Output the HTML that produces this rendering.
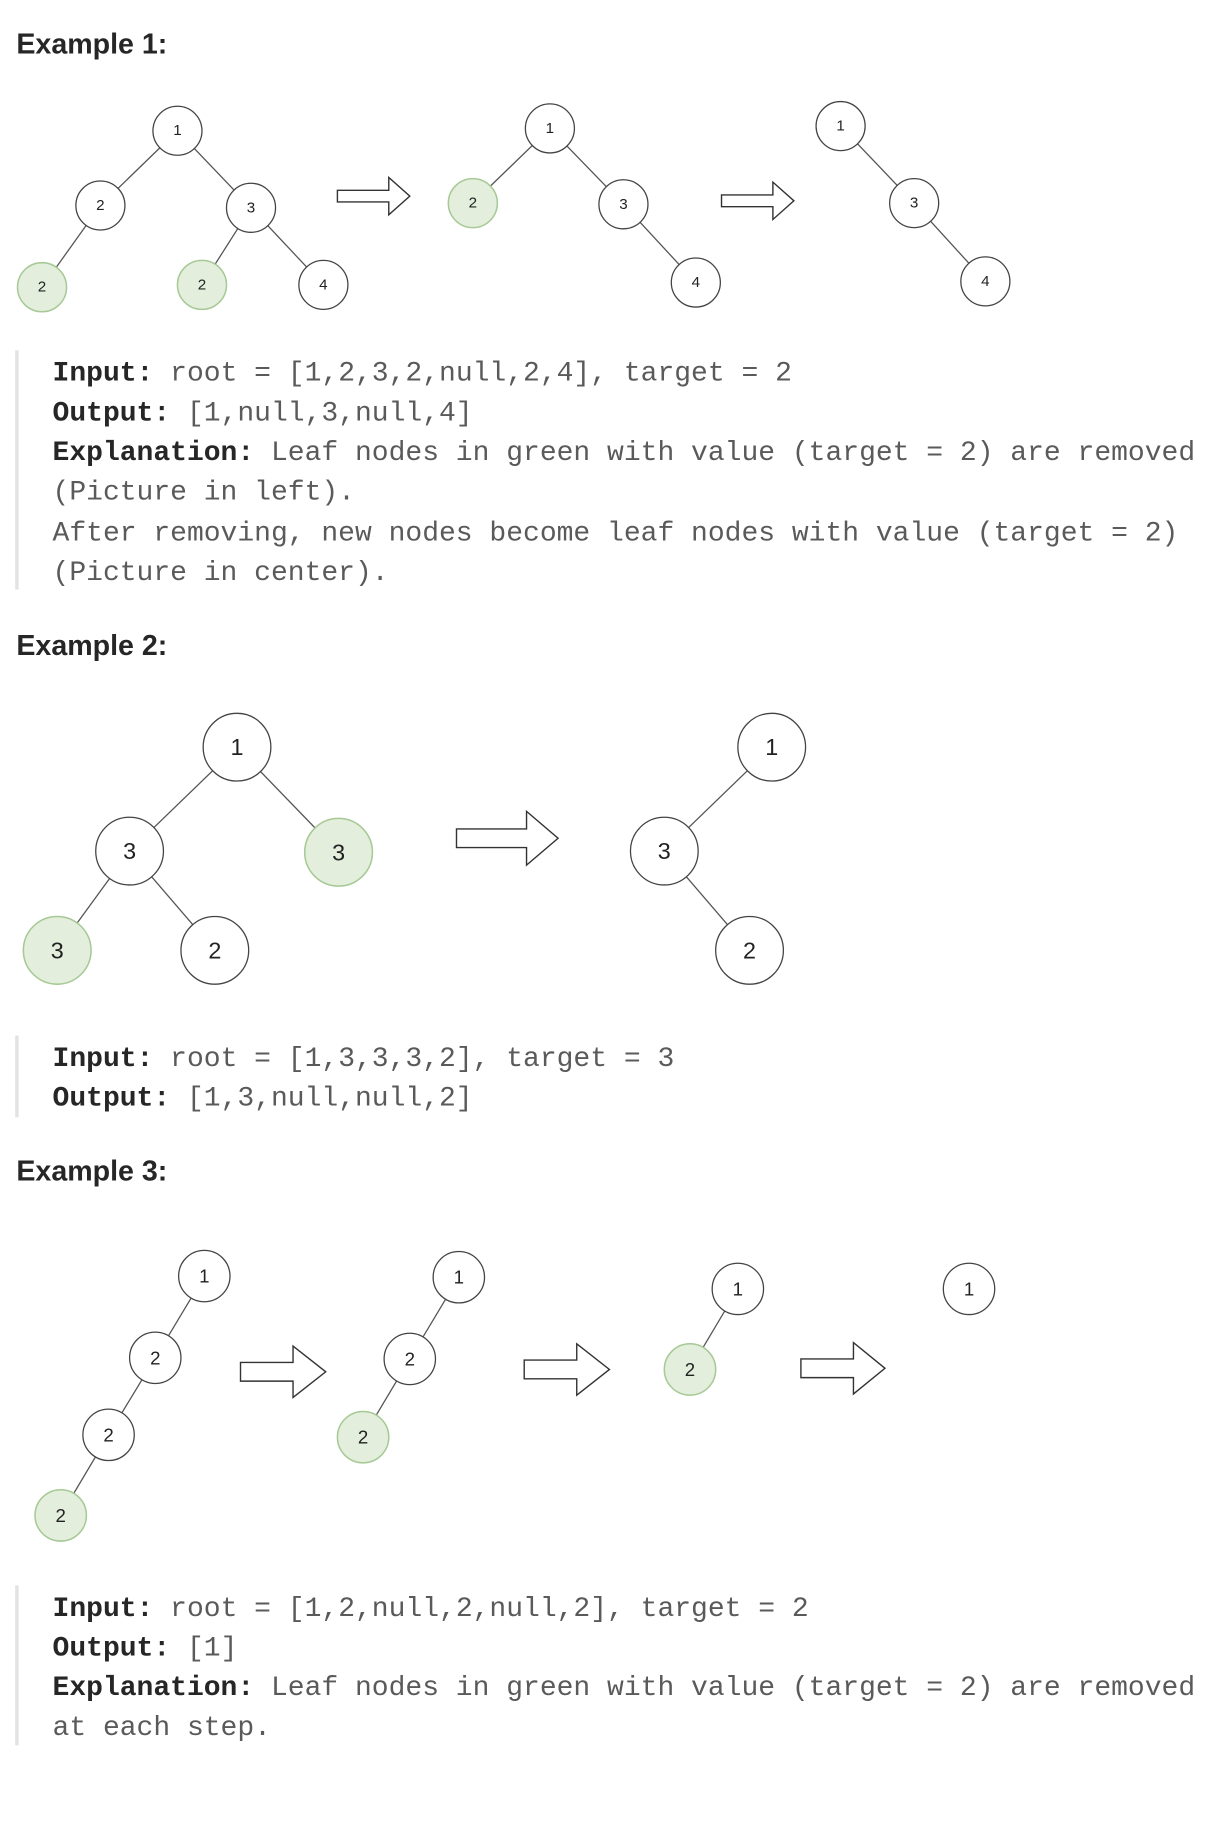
<!DOCTYPE html>
<html><head><meta charset="utf-8"><style>
html,body{margin:0;padding:0;background:#fff;}
svg{display:block;}
.h{font-family:"Liberation Sans",sans-serif;font-weight:bold;font-size:24.5px;fill:#262626;}
.c{font-family:"Liberation Mono",monospace;font-size:24px;fill:#5a5a5a;}
.b{font-weight:bold;fill:#262626;}
.e{stroke:#555;stroke-width:1.1;fill:none;}
.n{fill:#fff;stroke:#444;stroke-width:1.1;}
.g{fill:#e3eedd;stroke:#a6c995;stroke-width:1.3;}
.t{font-family:"Liberation Sans",sans-serif;fill:#222;text-anchor:middle;dominant-baseline:central;}
.a{fill:#fff;stroke:#333;stroke-width:1.2;}
.bar{fill:#e3e3e3;}
</style></head><body>
<svg width="1210" height="1832" viewBox="0 0 1036.4 1569.2" preserveAspectRatio="none">
<text class="h" x="14" y="46">Example 1:</text>
<g class="e">
<line x1="152" y1="112" x2="86" y2="176"/><line x1="152" y1="112" x2="215" y2="178"/>
<line x1="86" y1="176" x2="36" y2="246"/><line x1="215" y1="178" x2="173" y2="244"/><line x1="215" y1="178" x2="277" y2="244"/>
<line x1="471" y1="110" x2="405" y2="174"/><line x1="471" y1="110" x2="534" y2="175"/><line x1="534" y1="175" x2="596" y2="242"/>
<line x1="720" y1="108" x2="783" y2="174"/><line x1="783" y1="174" x2="844" y2="241"/>
</g>
<g font-size="13">
<circle class="n" cx="152" cy="112" r="21"/><text class="t" x="152" y="112">1</text>
<circle class="n" cx="86" cy="176" r="21"/><text class="t" x="86" y="176">2</text>
<circle class="n" cx="215" cy="178" r="21"/><text class="t" x="215" y="178">3</text>
<circle class="g" cx="36" cy="246" r="21"/><text class="t" x="36" y="246">2</text>
<circle class="g" cx="173" cy="244" r="21"/><text class="t" x="173" y="244">2</text>
<circle class="n" cx="277" cy="244" r="21"/><text class="t" x="277" y="244">4</text>
<circle class="n" cx="471" cy="110" r="21"/><text class="t" x="471" y="110">1</text>
<circle class="g" cx="405" cy="174" r="21"/><text class="t" x="405" y="174">2</text>
<circle class="n" cx="534" cy="175" r="21"/><text class="t" x="534" y="175">3</text>
<circle class="n" cx="596" cy="242" r="21"/><text class="t" x="596" y="242">4</text>
<circle class="n" cx="720" cy="108" r="21"/><text class="t" x="720" y="108">1</text>
<circle class="n" cx="783" cy="174" r="21"/><text class="t" x="783" y="174">3</text>
<circle class="n" cx="844" cy="241" r="21"/><text class="t" x="844" y="241">4</text>
</g>
<polygon class="a" points="289,163 333,163 333,152 351,168 333,184 333,173 289,173"/>
<polygon class="a" points="618,167 662,167 662,156 680,172 662,188 662,177 618,177"/>
<rect class="bar" x="13" y="300" width="3" height="205"/>
<text class="c" x="45" y="326"><tspan class="b">Input:</tspan> root = [1,2,3,2,null,2,4], target = 2</text>
<text class="c" x="45" y="360"><tspan class="b">Output:</tspan> [1,null,3,null,4]</text>
<text class="c" x="45" y="394"><tspan class="b">Explanation:</tspan> Leaf nodes in green with value (target = 2) are removed</text>
<text class="c" x="45" y="428">(Picture in left).</text>
<text class="c" x="45" y="463">After removing, new nodes become leaf nodes with value (target = 2)</text>
<text class="c" x="45" y="497">(Picture in center).</text>

<text class="h" x="14" y="561">Example 2:</text>
<g class="e">
<line x1="203" y1="640" x2="111" y2="729"/><line x1="203" y1="640" x2="290" y2="730"/>
<line x1="111" y1="729" x2="49" y2="814"/><line x1="111" y1="729" x2="184" y2="814"/>
<line x1="661" y1="640" x2="569" y2="729"/><line x1="569" y1="729" x2="642" y2="814"/>
</g>
<g font-size="20">
<circle class="n" cx="203" cy="640" r="29"/><text class="t" x="203" y="640">1</text>
<circle class="n" cx="111" cy="729" r="29"/><text class="t" x="111" y="729">3</text>
<circle class="g" cx="290" cy="730" r="29"/><text class="t" x="290" y="730">3</text>
<circle class="g" cx="49" cy="814" r="29"/><text class="t" x="49" y="814">3</text>
<circle class="n" cx="184" cy="814" r="29"/><text class="t" x="184" y="814">2</text>
<circle class="n" cx="661" cy="640" r="29"/><text class="t" x="661" y="640">1</text>
<circle class="n" cx="569" cy="729" r="29"/><text class="t" x="569" y="729">3</text>
<circle class="n" cx="642" cy="814" r="29"/><text class="t" x="642" y="814">2</text>
</g>
<polygon class="a" points="391,710 451,710 451,695 478,718 451,741 451,726 391,726"/>
<rect class="bar" x="13" y="887" width="3" height="70"/>
<text class="c" x="45" y="913"><tspan class="b">Input:</tspan> root = [1,3,3,3,2], target = 3</text>
<text class="c" x="45" y="947"><tspan class="b">Output:</tspan> [1,3,null,null,2]</text>

<text class="h" x="14" y="1011">Example 3:</text>
<g class="e">
<line x1="175" y1="1093" x2="133" y2="1163"/><line x1="133" y1="1163" x2="93" y2="1229"/><line x1="93" y1="1229" x2="52" y2="1298"/>
<line x1="393" y1="1094" x2="351" y2="1164"/><line x1="351" y1="1164" x2="311" y2="1231"/>
<line x1="632" y1="1104" x2="591" y2="1173"/>
</g>
<g font-size="16">
<circle class="n" cx="175" cy="1093" r="22"/><text class="t" x="175" y="1093">1</text>
<circle class="n" cx="133" cy="1163" r="22"/><text class="t" x="133" y="1163">2</text>
<circle class="n" cx="93" cy="1229" r="22"/><text class="t" x="93" y="1229">2</text>
<circle class="g" cx="52" cy="1298" r="22"/><text class="t" x="52" y="1298">2</text>
<circle class="n" cx="393" cy="1094" r="22"/><text class="t" x="393" y="1094">1</text>
<circle class="n" cx="351" cy="1164" r="22"/><text class="t" x="351" y="1164">2</text>
<circle class="g" cx="311" cy="1231" r="22"/><text class="t" x="311" y="1231">2</text>
<circle class="n" cx="632" cy="1104" r="22"/><text class="t" x="632" y="1104">1</text>
<circle class="g" cx="591" cy="1173" r="22"/><text class="t" x="591" y="1173">2</text>
<circle class="n" cx="830" cy="1104" r="22"/><text class="t" x="830" y="1104">1</text>
</g>
<polygon class="a" points="206,1167 251,1167 251,1153 279,1175 251,1197 251,1183 206,1183"/>
<polygon class="a" points="449,1165 494,1165 494,1151 522,1173 494,1195 494,1181 449,1181"/>
<polygon class="a" points="686,1164 731,1164 731,1150 758,1172 731,1194 731,1180 686,1180"/>
<rect class="bar" x="13" y="1358" width="3" height="137"/>
<text class="c" x="45" y="1384"><tspan class="b">Input:</tspan> root = [1,2,null,2,null,2], target = 2</text>
<text class="c" x="45" y="1418"><tspan class="b">Output:</tspan> [1]</text>
<text class="c" x="45" y="1452"><tspan class="b">Explanation:</tspan> Leaf nodes in green with value (target = 2) are removed</text>
<text class="c" x="45" y="1486">at each step.</text>
</svg>
</body></html>
